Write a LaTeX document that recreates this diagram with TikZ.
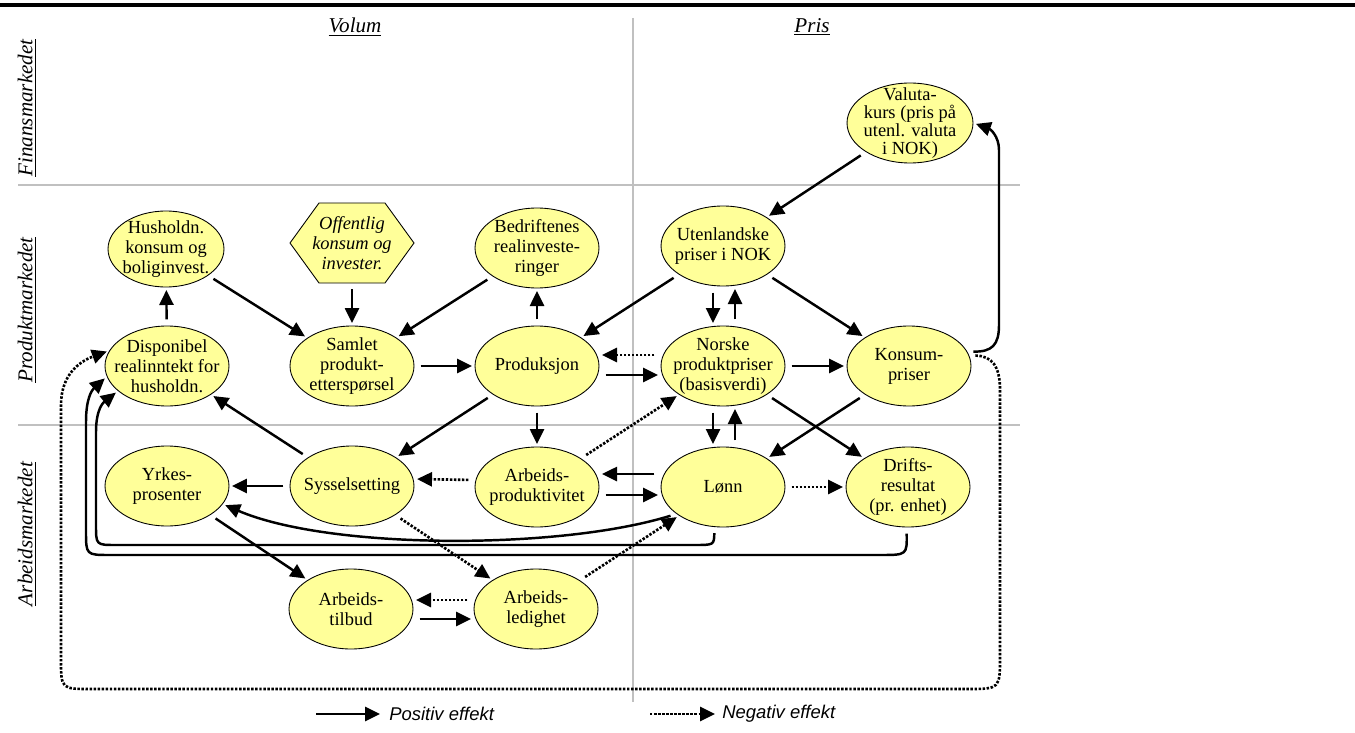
\documentclass[tikz,border=0pt]{standalone}
\usepackage{fontspec}
\setmainfont{Liberation Serif}
\setsansfont{Liberation Sans}
\usetikzlibrary{arrows.meta,shapes.geometric}
\definecolor{boxyellow}{HTML}{FFFF99}
\definecolor{gridgray}{HTML}{C0C0C0}

\begin{document}
\begin{tikzpicture}[x=0.02cm,y=-0.02cm,
    var/.style={ellipse,draw,fill=boxyellow,line width=0.5pt,minimum width=2.48cm,minimum height=1.6cm,
                inner sep=-20pt,align=center,font=\fontsize{10.5}{11.3}\selectfont},
    poseff/.style={line width=1.4pt,-{Triangle[length=8.5pt,width=8pt]},shorten >=1.5pt,shorten <=3.5pt},
    negeff/.style={poseff,line width=1.5pt,dash pattern=on 1.4pt off 0.9pt},
    market/.style={rotate=90,font=\fontsize{12}{14}\selectfont\itshape},
    divider/.style={gridgray,line width=0.8pt}]
    \useasboundingbox (0,0) rectangle (1355,733);
    \draw[line width=2pt] (0,5) -- (1355,5);
    \draw[divider] (633,18) -- (633,702);
    \draw[divider] (18,185) -- (1020,185);
    \draw[divider] (18,425) -- (1020,425);
    \node[font=\fontsize{12}{14}\selectfont\itshape] (volum) at (355,27) {\underline{Volum}};
    \node[font=\fontsize{12}{14}\selectfont\itshape] (pris) at (812,27) {\underline{Pris}};
    \node[market] (finans) at (27,108) {\underline{Finansmarkedet}};
    \node[market] (produkt) at (27,310) {\underline{Produktmarkedet}};
    \node[market] (arbeid) at (27,534) {\underline{Arbeidsmarkedet}};
    \node[var,minimum width=2.52cm,font=\fontsize{10.5}{10.2}\selectfont] (valuta) at (910,123) {Valuta-\\kurs (pris på\\utenl. valuta\\i NOK)};
    \node[var,minimum width=2.32cm,minimum height=1.52cm] (hush) at (166,249) {Husholdn.\\konsum og\\boliginvest.};
    \draw[fill=boxyellow,line width=0.5pt] (290,243) -- (319,203) -- (385,203) -- (414,243) -- (385,283) -- (319,283) -- cycle;
    \node[minimum width=2.48cm,minimum height=1.6cm,inner sep=0pt,align=center,font=\fontsize{10.5}{11.3}\selectfont\itshape] (off) at (352,243) {Offentlig\\konsum og\\invester.};
    \node[var] (bedr) at (537,248) {Bedriftenes\\realinveste-\\ringer};
    \node[var] (uten) at (723,246) {Utenlandske\\priser i NOK};
    \node[var] (disp) at (167,366) {Disponibel\\realinntekt for\\husholdn.};
    \node[var] (samlet) at (352,366) {Samlet\\produkt-\\etterspørsel};
    \node[var] (prod) at (537,366) {Produksjon};
    \node[var] (norske) at (723,366) {Norske\\produktpriser\\(basisverdi)};
    \node[var] (konsum) at (909,366) {Konsum-\\priser};
    \node[var] (yrkes) at (167,486) {Yrkes-\\prosenter};
    \node[var] (syssel) at (352,486) {Sysselsetting};
    \node[var] (arbprod) at (537,487) {Arbeids-\\produktivitet};
    \node[var] (loenn) at (723,487) {Lønn};
    \node[var] (drifts) at (908,487) {Drifts-\\resultat\\(pr. enhet)};
    \node[var] (tilbud) at (351,609) {Arbeids-\\tilbud};
    \node[var] (ledig) at (536,609) {Arbeids-\\ledighet};
    \draw[poseff] (valuta) -- (uten);
    \draw[poseff] (konsum.14) .. controls (992,352) and (999,345) .. (999,325) -- (999,150) .. controls (999,136) and (990,129) .. (valuta.east);
    \draw[poseff] (uten) -- (prod);
    \draw[poseff] (uten) -- (konsum);
    \draw[poseff] ([xshift=-0.2cm]uten.south) -- ([xshift=-0.2cm]norske.north);
    \draw[poseff] ([xshift=0.24cm]norske.north) -- ([xshift=0.24cm]uten.south);
    \draw[negeff] ([yshift=0.22cm]norske.west) -- ([yshift=0.22cm]prod.east);
    \draw[poseff] ([yshift=-0.18cm]prod.east) -- ([yshift=-0.18cm]norske.west);
    \draw[poseff] (norske) -- (konsum);
    \draw[poseff] ([xshift=-0.2cm]norske.south) -- ([xshift=-0.2cm]loenn.north);
    \draw[poseff] ([xshift=0.24cm]loenn.north) -- ([xshift=0.24cm]norske.south);
    \draw[poseff] (norske) -- (drifts);
    \draw[poseff] (konsum) -- (loenn);
    \draw[negeff] (arbprod) -- (norske);
    \draw[poseff] (disp) -- (hush);
    \draw[poseff] (hush) -- (samlet);
    \draw[poseff] (off) -- (samlet);
    \draw[poseff] (bedr) -- (samlet);
    \draw[poseff] (prod) -- (bedr);
    \draw[poseff] (samlet) -- (prod);
    \draw[poseff] (prod) -- (syssel);
    \draw[poseff] (prod) -- (arbprod);
    \draw[poseff] (syssel) -- (disp);
    \draw[poseff] (syssel) -- (yrkes);
    \draw[negeff] ([yshift=0.14cm]arbprod.west) -- ([yshift=0.14cm]syssel.east);
    \draw[poseff] ([yshift=0.26cm]loenn.west) -- ([yshift=0.26cm]arbprod.east);
    \draw[poseff] ([yshift=-0.16cm]arbprod.east) -- ([yshift=-0.16cm]loenn.west);
    \draw[negeff] (loenn) -- (drifts);
    \draw[poseff] (yrkes) -- (tilbud);
    \draw[negeff] (syssel) -- (ledig);
    \draw[negeff] (ledig) -- (loenn);
    \draw[negeff] ([yshift=0.18cm]ledig.west) -- ([yshift=0.18cm]tilbud.east);
    \draw[poseff] ([yshift=-0.2cm]tilbud.east) -- ([yshift=-0.2cm]ledig.west);
    \draw[poseff] (loenn.210) .. controls (560,550) and (330,550) .. (yrkes.-18);
    \draw[poseff] (loenn.258) .. controls (714,545) .. (694,545) -- (116,545) .. controls (96,545) .. (96,525)
        -- (96,432) .. controls (96,408) and (104,402) .. (disp.207);
    \draw[poseff] (drifts.268) .. controls (907,555) .. (880,555) -- (110,555) .. controls (86,555) .. (86,531)
        -- (86,422) .. controls (86,398) and (92,390) .. (disp.190);
    \draw[negeff] (konsum.10) .. controls (992,356) and (1000,366) .. (1000,390) -- (1000,656) .. controls (1000,689) .. (967,689)
        -- (91,689) .. controls (61,689) .. (61,659) -- (61,405) .. controls (61,376) and (78,362) .. (disp.165);
    \coordinate (posa) at (316,714);
    \coordinate (posb) at (380,714);
    \draw[poseff,shorten <=0pt,shorten >=0pt] (posa) -- (posb);
    \node[anchor=west,inner sep=0pt,font=\sffamily\itshape\fontsize{10.5}{12}\selectfont] (poslab) at (389,714) {Positiv effekt};
    \coordinate (nega) at (650,714);
    \coordinate (negb) at (715,714);
    \draw[negeff,shorten <=0pt,shorten >=0pt] (nega) -- (negb);
    \node[anchor=west,inner sep=0pt,font=\sffamily\itshape\fontsize{10.5}{12}\selectfont] (neglab) at (722,714) {Negativ effekt};
\end{tikzpicture}
\end{document}
